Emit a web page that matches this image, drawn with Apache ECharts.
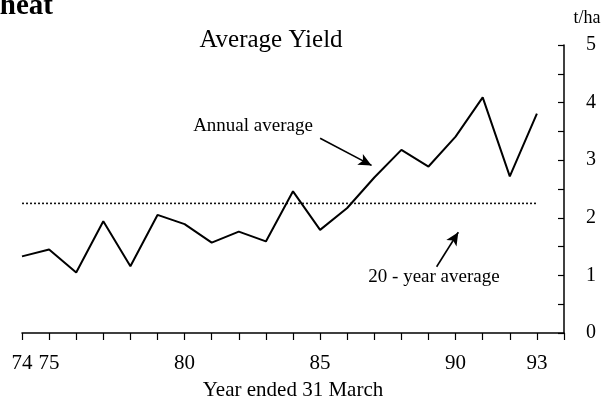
<!DOCTYPE html>
<html>
<head>
<meta charset="utf-8">
<title>Average Yield</title>
<script src="https://cdn.jsdelivr.net/npm/echarts@6/dist/echarts.min.js"></script>
<style>
  html, body { margin: 0; padding: 0; background: #fff; }
  #chart { width: 616px; height: 400px; }
</style>
</head>
<body>
<div id="chart"></div>
<script>
// 数据
const years = [74, 75, 76, 77, 78, 79, 80, 81, 82, 83, 84, 85, 86, 87, 88, 89, 90, 91, 92, 93]
const annualYield = [1.33, 1.45, 1.05, 1.94, 1.16, 2.05, 1.89, 1.57, 1.76, 1.59, 2.46, 1.79, 2.17, 2.7, 3.18, 2.89, 3.41, 4.09, 2.72, 3.81]
const twentyYearAverage = 2.25
const xLabelYears = [74, 75, 80, 85, 90, 93]
const yLabelValues = [0, 1, 2, 3, 4, 5]

// arrow ends in data space: [year, t/ha]
const annualArrow = [[85.0, 3.38], [86.9, 2.91]]
const averageArrow = [[89.3, 1.15], [90.1, 1.75]]

const serif = '"Liberation Serif", "DejaVu Serif", serif'

const chart = echarts.init(document.getElementById('chart'), null, { renderer: 'canvas' })

const option = {
  animation: false,
  backgroundColor: '#fff',
  textStyle: { fontFamily: serif, color: '#000' },
  grid: { left: 22, right: 52, top: 45, bottom: 67, containLabel: false, outerBoundsMode: 'none' },
  xAxis: {
    type: 'value',
    min: 74,
    max: 94,
    interval: 1,
    axisLine: { show: true, lineStyle: { color: '#000', width: 1.5 } },
    axisTick: { show: true, length: 7, lineStyle: { color: '#000', width: 1.2 } },
    splitLine: { show: false },
    axisLabel: {
      margin: 20,
      fontFamily: serif,
      fontSize: 21,
      color: '#000',
      hideOverlap: false,
      showMinLabel: true,
      showMaxLabel: true,
      formatter: (v) => xLabelYears.includes(v) ? String(v) : ''
    },
    name: 'Year ended 31 March',
    nameLocation: 'middle',
    nameGap: 47,
    nameTextStyle: { fontFamily: serif, fontSize: 21, color: '#000' }
  },
  yAxis: {
    type: 'value',
    position: 'right',
    min: 0,
    max: 5,
    interval: 0.5,
    axisLine: { show: true, lineStyle: { color: '#000', width: 1.5 } },
    axisTick: { show: true, inside: true, length: 6, lineStyle: { color: '#000', width: 1.2 } },
    splitLine: { show: false },
    axisLabel: {
      margin: 22,
      fontFamily: serif,
      fontSize: 20,
      color: '#000',
      formatter: (v) => yLabelValues.includes(v) ? String(v) : ''
    }
  },
  series: [
    {
      name: 'Annual average',
      type: 'line',
      data: years.map((y, i) => [y, annualYield[i]]),
      symbol: 'none',
      lineStyle: { color: '#000', width: 2 },
      z: 3,
      markLine: {
        silent: true,
        symbol: ['none', 'arrow'],
        symbolSize: [9, 13],
        label: { show: false },
        lineStyle: { color: '#000', width: 1.6, type: 'solid' },
        data: [
          [{ coord: annualArrow[0] }, { coord: annualArrow[1] }],
          [{ coord: averageArrow[0] }, { coord: averageArrow[1] }]
        ]
      }
    },
    {
      name: '20 - year average',
      type: 'line',
      data: [[years[0], twentyYearAverage], [years[years.length - 1], twentyYearAverage]],
      symbol: 'none',
      lineStyle: { color: '#111', width: 1.6, type: [2, 2] },
      z: 2
    }
  ],
  graphic: [
    {
      type: 'text', x: 53, y: 21,
      style: { text: 'Wheat', font: 'bold 29px ' + serif, fill: '#000', align: 'right', verticalAlign: 'bottom' }
    },
    {
      type: 'text', x: 271, y: 40,
      style: { text: 'Average Yield', font: '25px ' + serif, fill: '#000', align: 'center', verticalAlign: 'middle' }
    },
    {
      type: 'text', x: 587, y: 18,
      style: { text: 't/ha', font: '18px ' + serif, fill: '#000', align: 'center', verticalAlign: 'middle' }
    },
    {
      type: 'text', x: 253, y: 126,
      style: { text: 'Annual average', font: '19px ' + serif, fill: '#000', align: 'center', verticalAlign: 'middle' }
    },
    {
      type: 'text', x: 434, y: 277,
      style: { text: '20 - year average', font: '19px ' + serif, fill: '#000', align: 'center', verticalAlign: 'middle' }
    }
  ]
}

chart.setOption(option)
</script>
</body>
</html>
